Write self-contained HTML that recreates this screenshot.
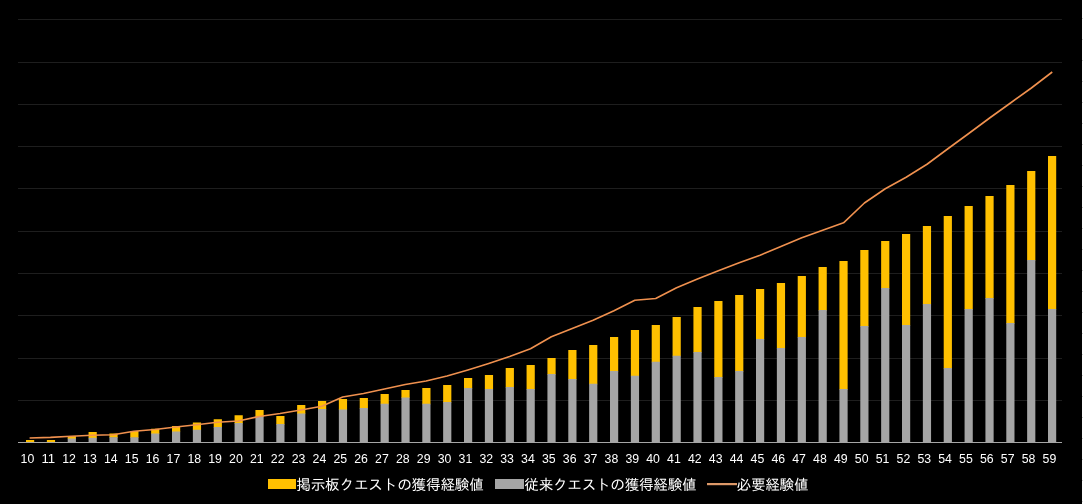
<!DOCTYPE html>
<html lang="ja"><head><meta charset="utf-8"><title>chart</title>
<style>
html,body{margin:0;padding:0;background:#000;}
body{width:1083px;height:504px;overflow:hidden;position:relative;}
svg{display:block;position:absolute;left:0;top:0;will-change:transform;}
.ax{font-family:"Liberation Sans","IPAGothic",sans-serif;font-size:12px;fill:#fff;text-anchor:middle;}
.lg{font-family:"Liberation Sans","IPAGothic","Noto Sans CJK JP",sans-serif;font-size:14.67px;fill:#fff;}
</style></head><body>
<svg width="1083" height="504" viewBox="0 0 1083 504">
<rect x="0" y="0" width="1083" height="504" fill="#000"/>
<rect x="1082" y="0" width="1" height="504" fill="#fff" shape-rendering="crispEdges"/>
<g fill="#d4d4d4" shape-rendering="crispEdges"><rect x="1082" y="18" width="1" height="1"/><rect x="1082" y="39" width="1" height="1"/><rect x="1082" y="60" width="1" height="1"/><rect x="1082" y="81" width="1" height="1"/><rect x="1082" y="102" width="1" height="1"/><rect x="1082" y="123" width="1" height="1"/><rect x="1082" y="144" width="1" height="1"/><rect x="1082" y="165" width="1" height="1"/><rect x="1082" y="186" width="1" height="1"/><rect x="1082" y="207" width="1" height="1"/><rect x="1082" y="228" width="1" height="1"/><rect x="1082" y="249" width="1" height="1"/><rect x="1082" y="270" width="1" height="1"/><rect x="1082" y="291" width="1" height="1"/><rect x="1082" y="312" width="1" height="1"/><rect x="1082" y="333" width="1" height="1"/><rect x="1082" y="354" width="1" height="1"/><rect x="1082" y="375" width="1" height="1"/><rect x="1082" y="396" width="1" height="1"/><rect x="1082" y="417" width="1" height="1"/><rect x="1082" y="438" width="1" height="1"/><rect x="1082" y="459" width="1" height="1"/><rect x="1082" y="480" width="1" height="1"/><rect x="1082" y="501" width="1" height="1"/></g>
<g fill="#1e1e1e" shape-rendering="crispEdges">
<rect x="18" y="19" width="1044" height="1"/>
<rect x="18" y="62" width="1044" height="1"/>
<rect x="18" y="104" width="1044" height="1"/>
<rect x="18" y="146" width="1044" height="1"/>
<rect x="18" y="188" width="1044" height="1"/>
<rect x="18" y="231" width="1044" height="1"/>
<rect x="18" y="273" width="1044" height="1"/>
<rect x="18" y="315" width="1044" height="1"/>
<rect x="18" y="358" width="1044" height="1"/>
<rect x="18" y="400" width="1044" height="1"/>
</g>
<g>
<rect x="26.00" y="440.00" width="8.2" height="2.20" fill="#FFC000"/>
<rect x="46.86" y="440.00" width="8.2" height="2.20" fill="#FFC000"/>
<rect x="67.71" y="436.00" width="8.2" height="3.10" fill="#FFC000"/><rect x="67.71" y="438.50" width="8.2" height="3.70" fill="#A5A5A5"/>
<rect x="88.57" y="432.00" width="8.2" height="6.40" fill="#FFC000"/><rect x="88.57" y="437.80" width="8.2" height="4.40" fill="#A5A5A5"/>
<rect x="109.43" y="433.50" width="8.2" height="4.30" fill="#FFC000"/><rect x="109.43" y="437.20" width="8.2" height="5.00" fill="#A5A5A5"/>
<rect x="130.29" y="431.00" width="8.2" height="6.90" fill="#FFC000"/><rect x="130.29" y="437.30" width="8.2" height="4.90" fill="#A5A5A5"/>
<rect x="151.14" y="428.75" width="8.2" height="5.35" fill="#FFC000"/><rect x="151.14" y="433.50" width="8.2" height="8.70" fill="#A5A5A5"/>
<rect x="172.00" y="426.00" width="8.2" height="6.10" fill="#FFC000"/><rect x="172.00" y="431.50" width="8.2" height="10.70" fill="#A5A5A5"/>
<rect x="192.86" y="422.50" width="8.2" height="7.85" fill="#FFC000"/><rect x="192.86" y="429.75" width="8.2" height="12.45" fill="#A5A5A5"/>
<rect x="213.71" y="419.25" width="8.2" height="8.35" fill="#FFC000"/><rect x="213.71" y="427.00" width="8.2" height="15.20" fill="#A5A5A5"/>
<rect x="234.57" y="415.25" width="8.2" height="8.35" fill="#FFC000"/><rect x="234.57" y="423.00" width="8.2" height="19.20" fill="#A5A5A5"/>
<rect x="255.43" y="410.00" width="8.2" height="7.10" fill="#FFC000"/><rect x="255.43" y="416.50" width="8.2" height="25.70" fill="#A5A5A5"/>
<rect x="276.29" y="416.00" width="8.2" height="8.60" fill="#FFC000"/><rect x="276.29" y="424.00" width="8.2" height="18.20" fill="#A5A5A5"/>
<rect x="297.14" y="405.00" width="8.2" height="9.10" fill="#FFC000"/><rect x="297.14" y="413.50" width="8.2" height="28.70" fill="#A5A5A5"/>
<rect x="318.00" y="401.00" width="8.2" height="8.60" fill="#FFC000"/><rect x="318.00" y="409.00" width="8.2" height="33.20" fill="#A5A5A5"/>
<rect x="338.86" y="399.00" width="8.2" height="11.10" fill="#FFC000"/><rect x="338.86" y="409.50" width="8.2" height="32.70" fill="#A5A5A5"/>
<rect x="359.71" y="398.00" width="8.2" height="10.60" fill="#FFC000"/><rect x="359.71" y="408.00" width="8.2" height="34.20" fill="#A5A5A5"/>
<rect x="380.57" y="394.00" width="8.2" height="10.35" fill="#FFC000"/><rect x="380.57" y="403.75" width="8.2" height="38.45" fill="#A5A5A5"/>
<rect x="401.43" y="390.00" width="8.2" height="8.10" fill="#FFC000"/><rect x="401.43" y="397.50" width="8.2" height="44.70" fill="#A5A5A5"/>
<rect x="422.29" y="388.00" width="8.2" height="16.35" fill="#FFC000"/><rect x="422.29" y="403.75" width="8.2" height="38.45" fill="#A5A5A5"/>
<rect x="443.14" y="385.00" width="8.2" height="17.60" fill="#FFC000"/><rect x="443.14" y="402.00" width="8.2" height="40.20" fill="#A5A5A5"/>
<rect x="464.00" y="378.00" width="8.2" height="10.60" fill="#FFC000"/><rect x="464.00" y="388.00" width="8.2" height="54.20" fill="#A5A5A5"/>
<rect x="484.86" y="375.00" width="8.2" height="14.60" fill="#FFC000"/><rect x="484.86" y="389.00" width="8.2" height="53.20" fill="#A5A5A5"/>
<rect x="505.71" y="368.00" width="8.2" height="19.60" fill="#FFC000"/><rect x="505.71" y="387.00" width="8.2" height="55.20" fill="#A5A5A5"/>
<rect x="526.57" y="365.00" width="8.2" height="24.60" fill="#FFC000"/><rect x="526.57" y="389.00" width="8.2" height="53.20" fill="#A5A5A5"/>
<rect x="547.43" y="358.00" width="8.2" height="16.60" fill="#FFC000"/><rect x="547.43" y="374.00" width="8.2" height="68.20" fill="#A5A5A5"/>
<rect x="568.29" y="350.00" width="8.2" height="29.60" fill="#FFC000"/><rect x="568.29" y="379.00" width="8.2" height="63.20" fill="#A5A5A5"/>
<rect x="589.14" y="345.00" width="8.2" height="39.35" fill="#FFC000"/><rect x="589.14" y="383.75" width="8.2" height="58.45" fill="#A5A5A5"/>
<rect x="610.00" y="337.00" width="8.2" height="34.60" fill="#FFC000"/><rect x="610.00" y="371.00" width="8.2" height="71.20" fill="#A5A5A5"/>
<rect x="630.86" y="330.00" width="8.2" height="46.35" fill="#FFC000"/><rect x="630.86" y="375.75" width="8.2" height="66.45" fill="#A5A5A5"/>
<rect x="651.71" y="325.00" width="8.2" height="37.35" fill="#FFC000"/><rect x="651.71" y="361.75" width="8.2" height="80.45" fill="#A5A5A5"/>
<rect x="672.57" y="317.00" width="8.2" height="39.35" fill="#FFC000"/><rect x="672.57" y="355.75" width="8.2" height="86.45" fill="#A5A5A5"/>
<rect x="693.43" y="307.00" width="8.2" height="45.60" fill="#FFC000"/><rect x="693.43" y="352.00" width="8.2" height="90.20" fill="#A5A5A5"/>
<rect x="714.29" y="301.00" width="8.2" height="76.60" fill="#FFC000"/><rect x="714.29" y="377.00" width="8.2" height="65.20" fill="#A5A5A5"/>
<rect x="735.14" y="295.00" width="8.2" height="76.60" fill="#FFC000"/><rect x="735.14" y="371.00" width="8.2" height="71.20" fill="#A5A5A5"/>
<rect x="756.00" y="289.00" width="8.2" height="50.60" fill="#FFC000"/><rect x="756.00" y="339.00" width="8.2" height="103.20" fill="#A5A5A5"/>
<rect x="776.86" y="283.00" width="8.2" height="65.60" fill="#FFC000"/><rect x="776.86" y="348.00" width="8.2" height="94.20" fill="#A5A5A5"/>
<rect x="797.71" y="276.00" width="8.2" height="61.60" fill="#FFC000"/><rect x="797.71" y="337.00" width="8.2" height="105.20" fill="#A5A5A5"/>
<rect x="818.57" y="267.00" width="8.2" height="43.60" fill="#FFC000"/><rect x="818.57" y="310.00" width="8.2" height="132.20" fill="#A5A5A5"/>
<rect x="839.43" y="261.00" width="8.2" height="128.60" fill="#FFC000"/><rect x="839.43" y="389.00" width="8.2" height="53.20" fill="#A5A5A5"/>
<rect x="860.29" y="250.00" width="8.2" height="76.60" fill="#FFC000"/><rect x="860.29" y="326.00" width="8.2" height="116.20" fill="#A5A5A5"/>
<rect x="881.14" y="241.00" width="8.2" height="47.60" fill="#FFC000"/><rect x="881.14" y="288.00" width="8.2" height="154.20" fill="#A5A5A5"/>
<rect x="902.00" y="234.00" width="8.2" height="91.60" fill="#FFC000"/><rect x="902.00" y="325.00" width="8.2" height="117.20" fill="#A5A5A5"/>
<rect x="922.86" y="226.00" width="8.2" height="78.60" fill="#FFC000"/><rect x="922.86" y="304.00" width="8.2" height="138.20" fill="#A5A5A5"/>
<rect x="943.71" y="216.00" width="8.2" height="152.60" fill="#FFC000"/><rect x="943.71" y="368.00" width="8.2" height="74.20" fill="#A5A5A5"/>
<rect x="964.57" y="206.00" width="8.2" height="103.60" fill="#FFC000"/><rect x="964.57" y="309.00" width="8.2" height="133.20" fill="#A5A5A5"/>
<rect x="985.43" y="196.00" width="8.2" height="102.60" fill="#FFC000"/><rect x="985.43" y="298.00" width="8.2" height="144.20" fill="#A5A5A5"/>
<rect x="1006.29" y="185.00" width="8.2" height="138.60" fill="#FFC000"/><rect x="1006.29" y="323.00" width="8.2" height="119.20" fill="#A5A5A5"/>
<rect x="1027.14" y="171.00" width="8.2" height="89.60" fill="#FFC000"/><rect x="1027.14" y="260.00" width="8.2" height="182.20" fill="#A5A5A5"/>
<rect x="1048.00" y="156.00" width="8.2" height="153.60" fill="#FFC000"/><rect x="1048.00" y="309.00" width="8.2" height="133.20" fill="#A5A5A5"/>
</g>
<rect x="18" y="442" width="1044" height="1" fill="#A6A6A6" shape-rendering="crispEdges"/>
<polyline points="29.60,438.00 50.47,437.40 71.34,436.20 92.21,435.30 113.08,434.80 133.95,431.20 154.82,429.50 175.69,427.00 196.56,424.75 217.43,422.25 238.30,421.00 259.17,416.50 280.04,413.50 300.91,410.00 321.78,406.25 342.65,397.00 363.52,393.50 384.39,389.00 405.26,384.50 426.13,381.00 447.00,376.00 467.87,370.00 488.74,363.50 509.61,356.50 530.48,348.75 551.35,336.75 572.22,328.50 593.09,320.25 613.96,310.75 634.83,300.25 655.70,298.50 676.57,287.75 697.44,279.00 718.31,270.75 739.18,262.75 760.05,255.25 780.92,246.50 801.79,237.75 822.66,230.25 843.53,222.80 864.40,203.00 885.27,188.75 906.14,177.25 927.01,164.25 947.88,148.75 968.75,133.50 989.62,118.00 1010.49,103.00 1031.36,88.00 1052.23,72.00" fill="none" stroke="#F0914F" stroke-width="1.6" stroke-linejoin="round" stroke-linecap="butt"/>
<g class="ax">
<text x="27.40" y="462.9" textLength="13.7" lengthAdjust="spacingAndGlyphs">10</text><text x="48.26" y="462.9" textLength="13.7" lengthAdjust="spacingAndGlyphs">11</text><text x="69.11" y="462.9" textLength="13.7" lengthAdjust="spacingAndGlyphs">12</text><text x="89.97" y="462.9" textLength="13.7" lengthAdjust="spacingAndGlyphs">13</text><text x="110.83" y="462.9" textLength="13.7" lengthAdjust="spacingAndGlyphs">14</text><text x="131.69" y="462.9" textLength="13.7" lengthAdjust="spacingAndGlyphs">15</text><text x="152.54" y="462.9" textLength="13.7" lengthAdjust="spacingAndGlyphs">16</text><text x="173.40" y="462.9" textLength="13.7" lengthAdjust="spacingAndGlyphs">17</text><text x="194.26" y="462.9" textLength="13.7" lengthAdjust="spacingAndGlyphs">18</text><text x="215.11" y="462.9" textLength="13.7" lengthAdjust="spacingAndGlyphs">19</text><text x="235.97" y="462.9" textLength="13.7" lengthAdjust="spacingAndGlyphs">20</text><text x="256.83" y="462.9" textLength="13.7" lengthAdjust="spacingAndGlyphs">21</text><text x="277.69" y="462.9" textLength="13.7" lengthAdjust="spacingAndGlyphs">22</text><text x="298.54" y="462.9" textLength="13.7" lengthAdjust="spacingAndGlyphs">23</text><text x="319.40" y="462.9" textLength="13.7" lengthAdjust="spacingAndGlyphs">24</text><text x="340.26" y="462.9" textLength="13.7" lengthAdjust="spacingAndGlyphs">25</text><text x="361.11" y="462.9" textLength="13.7" lengthAdjust="spacingAndGlyphs">26</text><text x="381.97" y="462.9" textLength="13.7" lengthAdjust="spacingAndGlyphs">27</text><text x="402.83" y="462.9" textLength="13.7" lengthAdjust="spacingAndGlyphs">28</text><text x="423.69" y="462.9" textLength="13.7" lengthAdjust="spacingAndGlyphs">29</text><text x="444.54" y="462.9" textLength="13.7" lengthAdjust="spacingAndGlyphs">30</text><text x="465.40" y="462.9" textLength="13.7" lengthAdjust="spacingAndGlyphs">31</text><text x="486.26" y="462.9" textLength="13.7" lengthAdjust="spacingAndGlyphs">32</text><text x="507.11" y="462.9" textLength="13.7" lengthAdjust="spacingAndGlyphs">33</text><text x="527.97" y="462.9" textLength="13.7" lengthAdjust="spacingAndGlyphs">34</text><text x="548.83" y="462.9" textLength="13.7" lengthAdjust="spacingAndGlyphs">35</text><text x="569.69" y="462.9" textLength="13.7" lengthAdjust="spacingAndGlyphs">36</text><text x="590.54" y="462.9" textLength="13.7" lengthAdjust="spacingAndGlyphs">37</text><text x="611.40" y="462.9" textLength="13.7" lengthAdjust="spacingAndGlyphs">38</text><text x="632.26" y="462.9" textLength="13.7" lengthAdjust="spacingAndGlyphs">39</text><text x="653.11" y="462.9" textLength="13.7" lengthAdjust="spacingAndGlyphs">40</text><text x="673.97" y="462.9" textLength="13.7" lengthAdjust="spacingAndGlyphs">41</text><text x="694.83" y="462.9" textLength="13.7" lengthAdjust="spacingAndGlyphs">42</text><text x="715.69" y="462.9" textLength="13.7" lengthAdjust="spacingAndGlyphs">43</text><text x="736.54" y="462.9" textLength="13.7" lengthAdjust="spacingAndGlyphs">44</text><text x="757.40" y="462.9" textLength="13.7" lengthAdjust="spacingAndGlyphs">45</text><text x="778.26" y="462.9" textLength="13.7" lengthAdjust="spacingAndGlyphs">46</text><text x="799.11" y="462.9" textLength="13.7" lengthAdjust="spacingAndGlyphs">47</text><text x="819.97" y="462.9" textLength="13.7" lengthAdjust="spacingAndGlyphs">48</text><text x="840.83" y="462.9" textLength="13.7" lengthAdjust="spacingAndGlyphs">49</text><text x="861.69" y="462.9" textLength="13.7" lengthAdjust="spacingAndGlyphs">50</text><text x="882.54" y="462.9" textLength="13.7" lengthAdjust="spacingAndGlyphs">51</text><text x="903.40" y="462.9" textLength="13.7" lengthAdjust="spacingAndGlyphs">52</text><text x="924.26" y="462.9" textLength="13.7" lengthAdjust="spacingAndGlyphs">53</text><text x="945.11" y="462.9" textLength="13.7" lengthAdjust="spacingAndGlyphs">54</text><text x="965.97" y="462.9" textLength="13.7" lengthAdjust="spacingAndGlyphs">55</text><text x="986.83" y="462.9" textLength="13.7" lengthAdjust="spacingAndGlyphs">56</text><text x="1007.69" y="462.9" textLength="13.7" lengthAdjust="spacingAndGlyphs">57</text><text x="1028.54" y="462.9" textLength="13.7" lengthAdjust="spacingAndGlyphs">58</text><text x="1049.40" y="462.9" textLength="13.7" lengthAdjust="spacingAndGlyphs">59</text>
</g>
<rect x="268" y="479" width="28" height="10" fill="#FFC000" shape-rendering="crispEdges"/>
<text class="lg" x="296.3" y="490.2" textLength="187.6" lengthAdjust="spacing">掲示板クエストの獲得経験値</text>
<rect x="495" y="479" width="29" height="10" fill="#A5A5A5" shape-rendering="crispEdges"/>
<text class="lg" x="524.3" y="490.2" textLength="172.4" lengthAdjust="spacing">従来クエストの獲得経験値</text>
<rect x="707" y="483" width="30" height="2.2" fill="#DC9868"/>
<text class="lg" x="736.6" y="490.2" textLength="72" lengthAdjust="spacing">必要経験値</text>
</svg>
</body></html>
